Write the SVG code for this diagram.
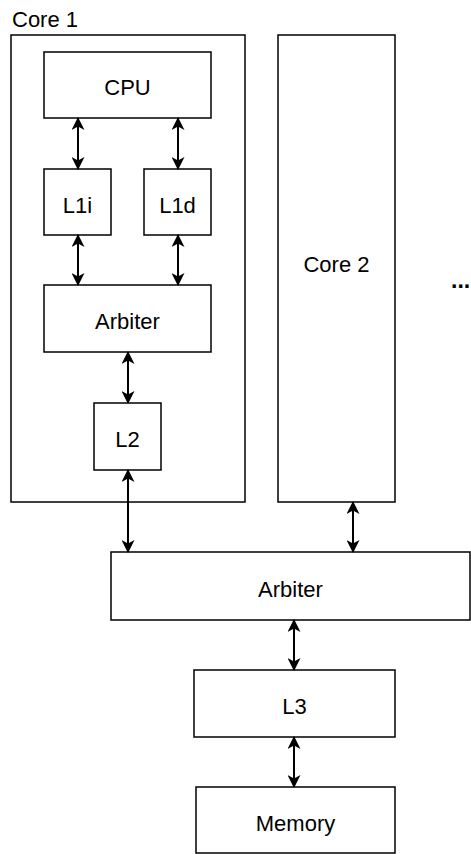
<svg xmlns="http://www.w3.org/2000/svg" width="471" height="854" viewBox="0 0 471 854">
<style>
.box{fill:#fff;stroke:#000;stroke-width:1.5}
.lbl{font-family:"Liberation Sans",Arial,Helvetica,sans-serif;font-size:22px;fill:#000;text-anchor:middle}
.con{stroke:#000;stroke-width:2;fill:none;marker-start:url(#ah);marker-end:url(#ah)}
</style>
<defs>
<marker id="ah" viewBox="0 0 13 13" refX="12" refY="6.5" markerWidth="13" markerHeight="13" markerUnits="userSpaceOnUse" orient="auto-start-reverse">
<path d="M0,0 L13,6.5 L0,13 L3.5,6.5 Z" fill="#000"/>
</marker>
</defs>
<rect width="471" height="854" fill="#fff"/>
<g id="core1">
<rect class="box" x="11" y="35" width="234" height="467"/>
<text x="12" y="27" font-family="Liberation Sans,Arial,sans-serif" font-size="22" fill="#000">Core 1</text>
</g>
<g id="cpu"><rect class="box" x="44" y="52" width="167" height="66"/><text class="lbl" x="127.5" y="95">CPU</text></g>
<g id="l1i"><rect class="box" x="44" y="169" width="67" height="66"/><text class="lbl" x="77.5" y="213">L1i</text></g>
<g id="l1d"><rect class="box" x="144" y="169" width="67" height="66"/><text class="lbl" x="177.5" y="213">L1d</text></g>
<g id="arbiter1"><rect class="box" x="44" y="285" width="167" height="67"/><text class="lbl" x="127.5" y="329">Arbiter</text></g>
<g id="l2"><rect class="box" x="94" y="403" width="67" height="67"/><text class="lbl" x="127.5" y="447">L2</text></g>
<g id="core2"><rect class="box" x="278" y="35" width="117" height="467"/><text class="lbl" x="336.5" y="272">Core 2</text></g>
<g id="more"><text x="451" y="288" font-family="Liberation Sans,Arial,sans-serif" font-size="23" font-weight="bold" fill="#000">...</text></g>
<g id="arbiter2"><rect class="box" x="111" y="552" width="359" height="68"/><text class="lbl" x="290.5" y="597">Arbiter</text></g>
<g id="l3"><rect class="box" x="194" y="670" width="201" height="67"/><text class="lbl" x="294.5" y="714">L3</text></g>
<g id="memory"><rect class="box" x="196" y="787" width="199" height="66"/><text class="lbl" x="295.5" y="831">Memory</text></g>
<g id="connectors">
<line class="con" x1="78" y1="118" x2="78" y2="169"/>
<line class="con" x1="178" y1="118" x2="178" y2="169"/>
<line class="con" x1="78" y1="235" x2="78" y2="285"/>
<line class="con" x1="178" y1="235" x2="178" y2="285"/>
<line class="con" x1="128" y1="352" x2="128" y2="403"/>
<line class="con" x1="128" y1="470" x2="128" y2="552"/>
<line class="con" x1="353" y1="502" x2="353" y2="552"/>
<line class="con" x1="294" y1="620" x2="294" y2="670"/>
<line class="con" x1="294" y1="737" x2="294" y2="787"/>
</g>
</svg>
